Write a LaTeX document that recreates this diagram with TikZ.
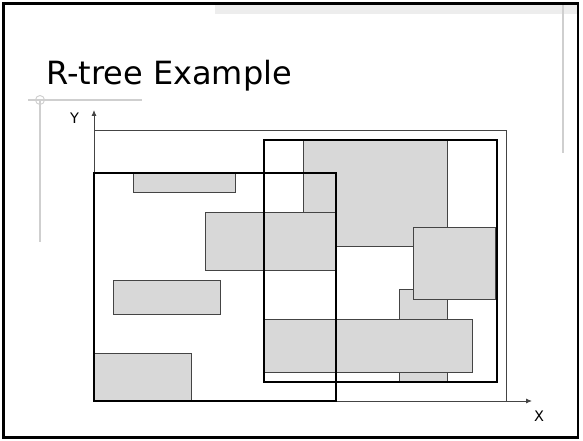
\documentclass[tikz,border=0pt]{standalone}
\usepackage{fontspec}
\setmainfont{DejaVu Sans}
\usetikzlibrary{arrows.meta}
\definecolor{boxgray}{HTML}{D8D8D8}
\definecolor{edgegray}{HTML}{444444}
\definecolor{decogray}{HTML}{CFCFCF}
\tikzset{
  leaf/.style={fill=boxgray, draw=edgegray, line width=0.9pt},
  mbr/.style={draw=black, line width=2.4pt},
  axisline/.style={draw=edgegray, line width=0.9pt},
  deco/.style={draw=decogray, line width=1.2pt},
  lbl/.style={inner sep=0pt, font=\fontsize{14.5}{14.5}\selectfont},
}
\begin{document}
\begin{tikzpicture}[x=1pt,y=-1pt]
\useasboundingbox (0,0) rectangle (583,441);
% slide frame and decorations
\fill[white] (0,0) rectangle (583,441);
\fill[black!7] (215,5) rectangle (577,14);
\draw[deco] (563,5) -- (563,153);
\draw[deco] (28,100) -- (142,100);
\draw[deco] (40,100) -- (40,242);
\draw[deco, line width=0.9pt] (40,100) circle (4.5);
\draw[line width=2.2pt] (3.5,3.5) rectangle (578,437.5);
% title
\node[anchor=base west, inner sep=0pt, font=\fontsize{32}{32}\selectfont] (title) at (46,85) {R-tree Example};
% overall bounding box
\coordinate (o) at (94,401);
\coordinate (ytip) at (94,110);
\coordinate (xtip) at (532,401);
\draw[axisline] (94,130) -- (506,130) -- (506,401);
% leaf rectangles
\draw[leaf] (133,173) rectangle (235,192);
\draw[leaf] (303,140) rectangle (447,246);
\draw[leaf] (205,212) rectangle (335,270);
\draw[leaf] (113,280) rectangle (220,314);
\draw[leaf] (94,353) rectangle (191,401);
\draw[leaf] (399,289) rectangle (447,382);
\draw[leaf] (413,227) rectangle (495,299);
\draw[leaf] (264,319) rectangle (472,372);
% axes
\draw[axisline, -{Latex[length=6pt,width=5pt]}] (o) -- (ytip);
\draw[axisline, -{Latex[length=6pt,width=5pt]}] (o) -- (xtip);
\node[lbl, anchor=base] (ylbl) at (74.5,124) {Y};
\node[lbl, anchor=base] (xlbl) at (539,421) {X};
% MBRs
\draw[mbr] (94,173) rectangle (336,401);
\draw[mbr] (264,140) rectangle (497,382);
\end{tikzpicture}
\end{document}
